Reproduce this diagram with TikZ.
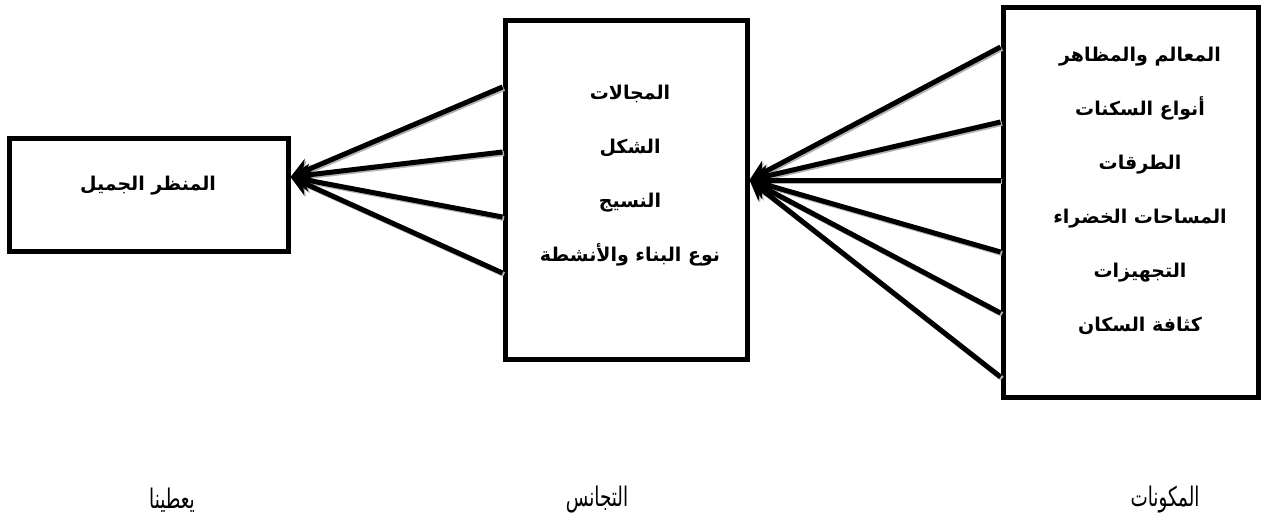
\documentclass[tikz,border=0pt]{standalone}
\usepackage{fontspec}
\usetikzlibrary{arrows.meta}
\newfontfamily\arabicfont[Script=Arabic]{DejaVu Sans}
\TeXXeTstate=1
\newcommand{\artxt}[1]{\beginR #1\endR}

\begin{document}
\begin{tikzpicture}[x=1pt,y=-1pt]
\tikzset{
  box/.style      = {draw, line width=5pt, inner sep=0pt},
  boxtext/.style  = {font=\arabicfont\bfseries\fontsize{19}{54}\selectfont, align=center},
  captext/.style  = {font=\arabicfont\fontsize{27}{30}\selectfont, xscale=0.68, transform shape},
  arrow/.style    = {line width=5pt, -{Stealth[length=20pt,width=22pt]}},
  arrowsh/.style  = {arrow, draw=gray!60, fill=gray!60, transform canvas={xshift=1.5pt,yshift=-1.5pt}}
}
\useasboundingbox (0,0) rectangle (1271,524);

% boxes
\node (beauty) [box, minimum width=279pt, minimum height=112pt] at (148.5,195)  {};
\node (homog)  [box, minimum width=242pt, minimum height=338pt] at (626,190)    {};
\node (comp)   [box, minimum width=255pt, minimum height=389pt] at (1130.5,202.5) {};

% box texts
\node (beautytxt) [boxtext] at (148,186) {\artxt{المنظر الجميل}};
\node (homogtxt)  [boxtext] at (630,176) {\artxt{المجالات}\\ \artxt{الشكل}\\ \artxt{النسيج}\\ \artxt{نوع البناء والأنشطة}};
\node (comptxt)   [boxtext] at (1140,191) {\artxt{المعالم والمظاهر}\\ \artxt{أنواع السكنات}\\ \artxt{الطرقات}\\ \artxt{المساحات الخضراء}\\ \artxt{التجهيزات}\\ \artxt{كثافة السكان}};

% arrows
\foreach \y in {47,122,180,252,313,377}
  \draw [arrowsh] (comp.west |- 0,\y) -- (homog.east |- 0,180);
\foreach \y in {87,152,217,273}
  \draw [arrowsh] (homog.west |- 0,\y) -- (beauty.east |- 0,177);
\foreach \y in {47,122,180,252,313,377}
  \draw [arrow] (comp.west |- 0,\y) -- (homog.east |- 0,180);
\foreach \y in {87,152,217,273}
  \draw [arrow] (homog.west |- 0,\y) -- (beauty.east |- 0,177);

% captions
\node (compcap)  [captext] at (1165,500) {\artxt{المكونات}};
\node (homogcap) [captext] at (597,500)  {\artxt{التجانس}};
\node (givecap)  [captext] at (172,500)  {\artxt{يعطينا}};
\end{tikzpicture}
\end{document}
